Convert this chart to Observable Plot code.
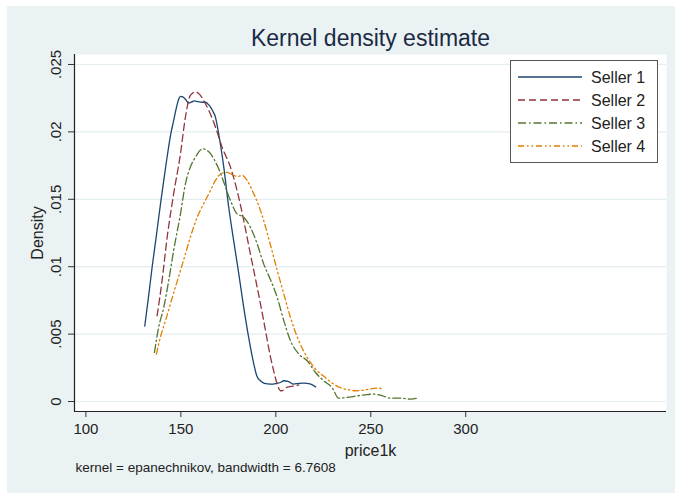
<!DOCTYPE html>
<html>
<head>
<meta charset="utf-8">
<script src="https://cdn.jsdelivr.net/npm/d3@7"></script>
<script src="https://cdn.jsdelivr.net/npm/@observablehq/plot@0.6"></script>
<style>
  html, body { margin: 0; padding: 0; background: #ffffff; }
  #chart { width: 681px; height: 500px; }
</style>
</head>
<body>
<div id="chart"></div>
<script>
// ---------- data ----------
const seriesNames = ["Seller 1", "Seller 2", "Seller 3", "Seller 4"];

const seller1Price   = [131, 133, 134.9, 137, 139.6, 142, 144.9, 146, 147.5, 148.8, 149.8, 151, 152.5, 154.1, 155.5, 157, 159, 161.2, 163, 164.7, 165.6, 167, 168.2, 169.9, 172.6, 175.2, 177.8, 180.5, 183.1, 185.7, 188.4, 190, 191.9, 194, 197.2, 200, 202.4, 204.2, 206.5, 209.4, 212, 214.7, 218, 221];
const seller1Density = [.0056, .0078, .0100, .0122, .0150, .0174, .0200, .0207, .0217, .0224, .02264, .0226, .0224, .02214, .0222, .0223, .02225, .0222, .0222, .0220, .02184, .0215, .0211, .01987, .01739, .01441, .01194, .00947, .00698, .00475, .00278, .0019, .00154, .00135, .00129, .00133, .00141, .00154, .0015, .00129, .00135, .00137, .0013, .00109];

const seller2Price   = [137.5, 140.1, 142.8, 146.2, 149.8, 152.4, 155, 157.7, 160.3, 162.5, 164.7, 168.2, 171.7, 176.1, 179.6, 183.1, 186.6, 190.2, 193.6, 197.2, 199, 200.7, 202.4, 203.3, 205, 207.5, 210.3, 212.1];
const seller2Density = [.00637, .00897, .01219, .0154, .01838, .0211, .02271, .02296, .02271, .0222, .0216, .02036, .01887, .01739, .01565, .01343, .01095, .00847, .006, .0033, .0022, .0013, .0008, .0008, .0010, .0011, .00117, .00124];

const seller3Price   = [136.1, 138.3, 141, 143.6, 146.2, 149.8, 152.4, 155, 157.7, 160.3, 161.5, 163.8, 165.5, 167.3, 169.9, 172.6, 176.1, 179.6, 183.1, 186.6, 190.2, 193.6, 197.2, 200.7, 204.2, 207.7, 212.1, 216.5, 220.9, 225.2, 229.6, 233.1, 237.5, 242.8, 247, 251.5, 255, 260.3, 265.6, 270.9, 274.4];
const seller3Density = [.00364, .0055, .00698, .00897, .0112, .01392, .01615, .01739, .01813, .01865, .01875, .01863, .0184, .01801, .01727, .01627, .01491, .01392, .01367, .01293, .01169, .01021, .00903, .00773, .006, .00451, .00352, .00302, .00215, .00154, .00104, .00025, .0003, .00042, .0005, .00055, .00048, .00025, .00025, .00018, .00025];

const seller4Price   = [137.1, 139.2, 141.9, 144.5, 147.1, 149.8, 152.4, 155, 158.6, 162, 165.6, 168.2, 171.7, 174.4, 177.8, 180, 182.3, 184.9, 188.4, 191, 193.6, 197.2, 200.7, 204.2, 207.7, 212.1, 216.5, 220.9, 226.1, 230.5, 234.9, 239.3, 241.9, 247.2, 251.5, 254, 256.8];
const seller4Density = [.00352, .00476, .006, .00724, .00847, .00971, .01095, .01219, .01367, .01467, .01565, .0164, .01694, .0170, .01677, .0167, .01677, .0164, .0154, .01454, .01343, .0116, .00975, .00798, .00624, .00451, .00327, .00241, .00178, .00129, .00098, .00085, .0008, .00087, .00097, .0010, .00085];

const xTicks = [100, 150, 200, 250, 300];
const xTickLabels = ["100", "150", "200", "250", "300"];
const yTicks = [0, 0.005, 0.01, 0.015, 0.02, 0.025];
const yTickLabels = ["0", ".005", ".01", ".015", ".02", ".025"];

const titleText = "Kernel density estimate";
const xAxisLabel = "price1k";
const yAxisLabel = "Density";
const captionText = "kernel = epanechnikov, bandwidth = 6.7608";

// ---------- build table ----------
const prices = [seller1Price, seller2Price, seller3Price, seller4Price];
const densities = [seller1Density, seller2Density, seller3Density, seller4Density];
const colors = ["#1a476f", "#90353b", "#55752f", "#e37e00"];
const dashes = [null, "7 4", "8 3 1.5 3", "6 3 1.5 3 1.5 3"];

const xDomain = [94, 405.7];
const yDomain = [-0.00074, 0.02574];

const font = "'Liberation Sans', Arial, sans-serif";

const lineMarks = seriesNames.map((name, i) =>
  Plot.line(prices[i].map((p, j) => ({price: p, density: densities[i][j]})), {
    x: "price", y: "density",
    stroke: colors[i], strokeWidth: 1.3,
    strokeDasharray: dashes[i],
    curve: "monotone-x"
  })
);

const chart = Plot.plot({
  width: 681,
  height: 500,
  marginLeft: 74,
  marginRight: 15,
  marginTop: 54,
  marginBottom: 89,
  style: {background: "transparent", fontFamily: font, color: "#222"},
  x: {domain: xDomain},
  y: {domain: yDomain},
  marks: [
    Plot.frame({fill: "white", stroke: "none"}),
    Plot.gridY(yTicks, {stroke: "#e4edef", strokeOpacity: 1, strokeWidth: 1.2}),
    Plot.axisX({ticks: xTicks, tickFormat: (d) => xTickLabels[xTicks.indexOf(d)], tickSize: 6, tickPadding: 6, fontSize: 15, label: null, stroke: "#333", fill: "#222"}),
    Plot.axisY({ticks: yTicks, tickFormat: () => "", tickSize: 6, label: null, stroke: "#333"}),
    Plot.text(yTicks, {y: yTicks, text: yTickLabels, frameAnchor: "left", dx: -14, rotate: -90, textAnchor: "middle", lineAnchor: "bottom", fontSize: 15, fill: "#222"}),
    Plot.text([yAxisLabel], {frameAnchor: "left", dx: -32, rotate: -90, textAnchor: "middle", lineAnchor: "bottom", fontSize: 16, fill: "#222"}),
    Plot.text([xAxisLabel], {frameAnchor: "bottom", dy: 39, lineAnchor: "middle", fontSize: 16, fill: "#222"}),
    Plot.text([captionText], {frameAnchor: "bottom-left", dx: 1, dy: 56, textAnchor: "start", lineAnchor: "middle", fontSize: 13.5, fill: "#222"}),
    Plot.text([titleText], {frameAnchor: "top", dy: -16, lineAnchor: "middle", fontSize: 23, fill: "#1c2a44"}),
    ...lineMarks,
    Plot.ruleX([xDomain[0]], {stroke: "#222", strokeWidth: 1.2}),
    Plot.ruleY([yDomain[0]], {stroke: "#222", strokeWidth: 1.2})
  ]
});

// outer graph region background
const svg = d3.select(chart);
svg.insert("rect", ":first-child")
  .attr("x", 7).attr("y", 6).attr("width", 668).attr("height", 487)
  .attr("fill", "#eaf2f3");

// legend
const lg = svg.append("g").attr("font-family", font).attr("text-anchor", "start");
lg.append("rect").attr("x", 510.5).attr("y", 60.5).attr("width", 147).attr("height", 102)
  .attr("fill", "white").attr("stroke", "#555").attr("stroke-width", 1);
seriesNames.forEach((name, i) => {
  const yy = 77 + i * 23;
  lg.append("line").attr("x1", 518).attr("x2", 582).attr("y1", yy).attr("y2", yy)
    .attr("stroke", colors[i]).attr("stroke-width", 1.3)
    .attr("stroke-dasharray", dashes[i]);
  lg.append("text").attr("x", 591).attr("y", yy).attr("dy", "0.35em")
    .attr("text-anchor", "start")
    .attr("font-size", 16).attr("fill", "#222").text(name);
});

document.getElementById("chart").appendChild(chart);
</script>
</body>
</html>
